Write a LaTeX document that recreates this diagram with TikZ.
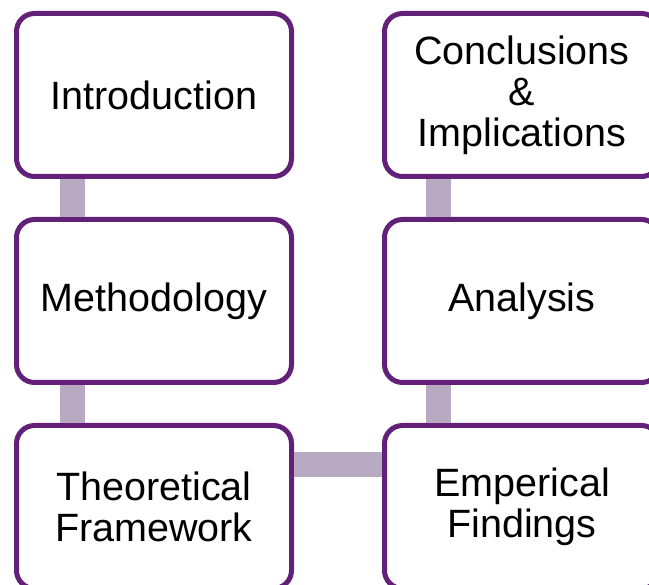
\documentclass[tikz,border=0pt]{standalone}
\usepackage{fontspec}
\setmainfont{Liberation Sans}
\usetikzlibrary{positioning}
\definecolor{boxline}{RGB}{98,32,120}
\definecolor{linkbar}{RGB}{185,170,196}
\tikzset{node distance=38pt and 88pt, stage/.style={draw=boxline, line width=5pt, rounded corners=18pt, fill=white, minimum width=275pt, minimum height=163pt, align=center, font=\fontsize{39.5}{41}\selectfont}, link/.style={draw=linkbar, line width=25pt}}

\begin{document}
\begin{tikzpicture}
            \useasboundingbox (0,0) rectangle (649pt,-585pt);
            \clip (0,0) rectangle (649pt,-585pt);
            \node[stage] (intro) at (154pt,-95pt) {Introduction};
            \node[stage, below=of intro] (method) {Methodology};
            \node[stage, below=of method] (theory) {Theoretical\\Framework};
            \node[stage, right=of theory] (empir) {Emperical\\Findings};
            \node[stage, above=of empir] (analysis) {Analysis};
            \node[stage, above=of analysis] (concl) {Conclusions\\\&\\Implications};
            
            \draw[link] ([xshift=-82pt]intro.south) -- ([xshift=-82pt]method.north)
                        ([xshift=-82pt]method.south) -- ([xshift=-82pt]theory.north)
                        ([yshift=42pt]theory.east) -- ([yshift=42pt]empir.west)
                        ([xshift=-84pt]empir.north) -- ([xshift=-84pt]analysis.south)
                        ([xshift=-84pt]analysis.north) -- ([xshift=-84pt]concl.south);
        \end{tikzpicture}
\end{document}
